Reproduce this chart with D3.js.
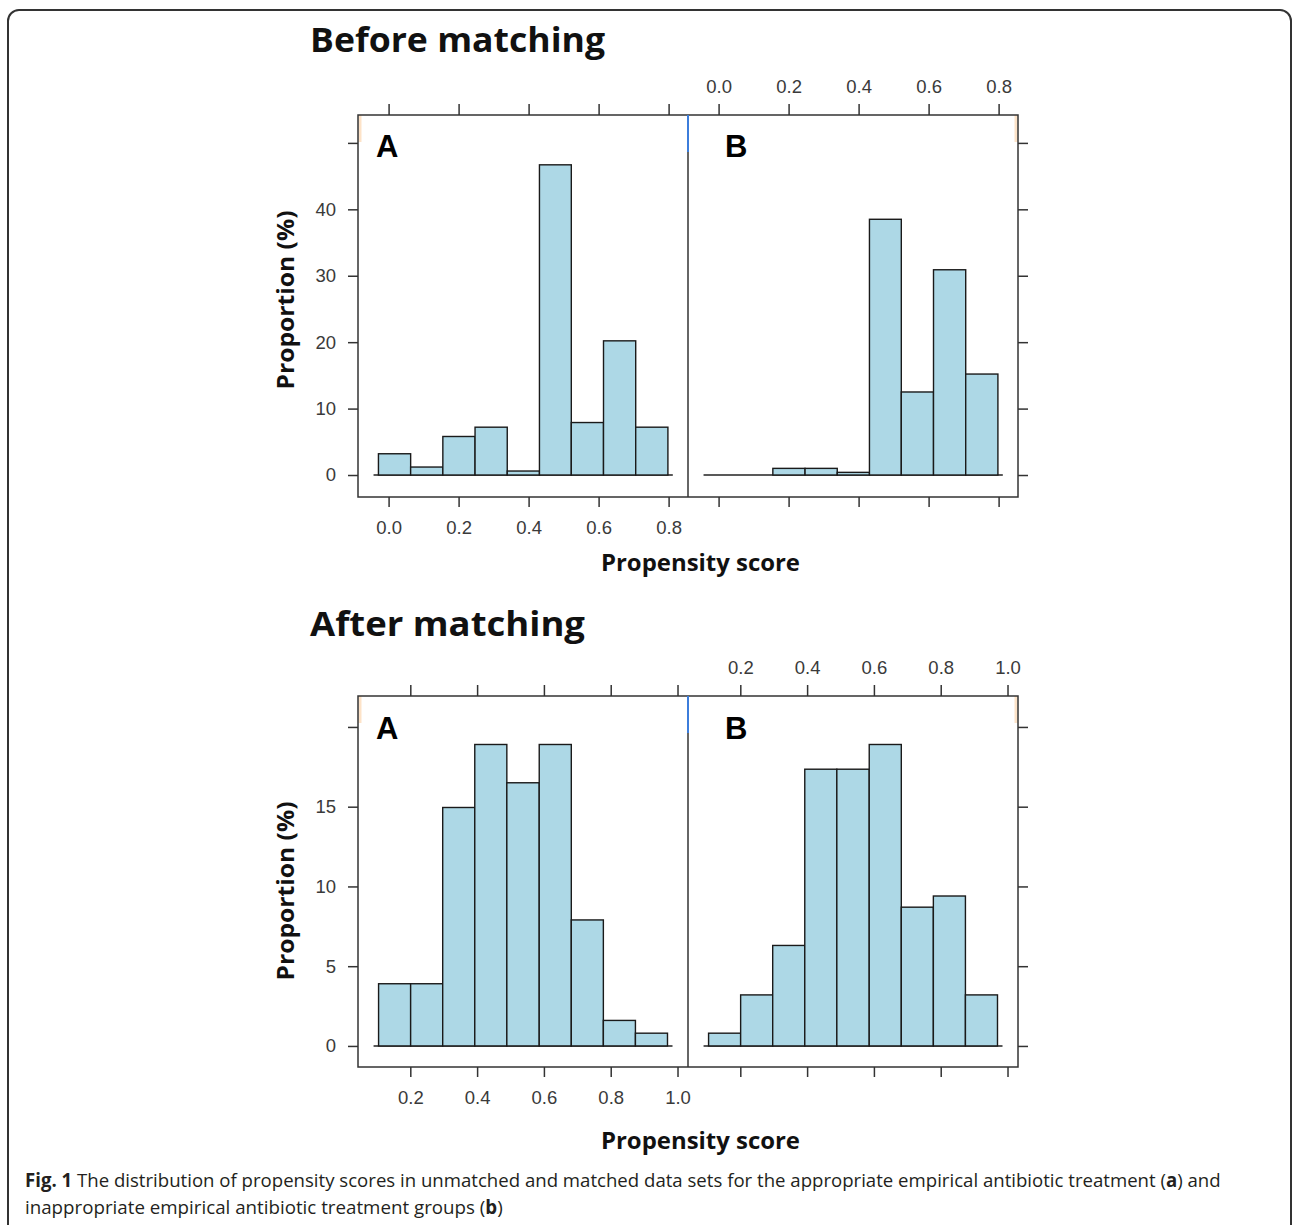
<!DOCTYPE html>
<html>
<head>
<meta charset="utf-8">
<script src="https://cdn.jsdelivr.net/npm/d3@7"></script>
<style>
  body { margin: 0; background: #fff; }
  svg { display: block; }
</style>
</head>
<body>
<div id="chart"></div>
<script>
// histogram breaks and bar heights (percent)
const panels = ['A', 'B']
const binsBefore = [-0.029, 0.063, 0.155, 0.247, 0.339, 0.431, 0.522, 0.614, 0.706, 0.798]
const beforeA = [3.2, 1.2, 5.8, 7.2, 0.6, 46.7, 7.9, 20.2, 7.2]
const beforeB = [0, 0, 1.0, 1.0, 0.4, 38.5, 12.5, 30.9, 15.2]

const binsAfter = [0.105, 0.201, 0.297, 0.393, 0.489, 0.586, 0.682, 0.778, 0.874, 0.970]
const afterA = [3.9, 3.9, 14.95, 18.9, 16.5, 18.9, 7.9, 1.6, 0.8]
const afterB = [0.8, 3.2, 6.3, 17.35, 17.35, 18.9, 8.7, 9.4, 3.2]

const xTicksBefore = [0, 0.2, 0.4, 0.6, 0.8]
const xTicksAfter = [0.2, 0.4, 0.6, 0.8, 1.0]
const yTicksBefore = [0, 10, 20, 30, 40, 50]
const yLabelsBefore = ['0', '10', '20', '30', '40', '']
const yTicksAfter = [0, 5, 10, 15, 20]
const yLabelsAfter = ['0', '5', '10', '15', '']

const titles = ['Before matching', 'After matching']
const xTitle = 'Propensity score'
const yTitle = 'Proportion (%)'

let width = 1295, height = 1225

let svg = d3.select('#chart').append('svg')
            .attr('width', width)
            .attr('height', height)

// outer box of the figure
svg.append('rect')
   .attr('x', 8).attr('y', 10)
   .attr('width', 1283).attr('height', 1230)
   .attr('rx', 11)
   .attr('fill', 'none')
   .attr('stroke', '#333')
   .attr('stroke-width', 2)

function drawBlock(opt) {
  let pw = 330, h = opt.height
  let g = svg.append('g')
             .attr('transform', 'translate(' + opt.left + ',' + opt.top + ')')

  let y = d3.scaleLinear().domain(opt.yDomain).range([h, 0])

  opt.series.forEach((vals, i) => {
    let x = d3.scaleLinear().domain(opt.xDomain).range([i * pw, (i + 1) * pw])
    let bars = vals.map((v, j) => ({ x0: opt.bins[j], x1: opt.bins[j + 1], v: v }))

    g.append('line')
     .attr('x1', x(opt.bins[0] - opt.pad))
     .attr('x2', x(opt.bins[opt.bins.length - 1] + opt.pad))
     .attr('y1', y(0)).attr('y2', y(0))
     .attr('stroke', '#222')
     .attr('stroke-width', 1.5)

    g.selectAll(null)
     .data(bars.filter(d => d.v > 0))
     .enter().append('rect')
     .attr('x', d => x(d.x0))
     .attr('width', d => x(d.x1) - x(d.x0))
     .attr('y', d => y(d.v))
     .attr('height', d => y(0) - y(d.v))
     .attr('fill', '#add8e6')
     .attr('stroke', '#1a1a1a')
     .attr('stroke-width', 1.4)

    let top = g.append('g')
               .attr('class', 'x axis')
               .call(d3.axisTop(x).tickValues(opt.xTicks).tickSize(11).tickPadding(11)
                       .tickFormat(i === 1 ? d3.format('.1f') : ''))
    let bottom = g.append('g')
                  .attr('class', 'x axis')
                  .attr('transform', 'translate(0,' + h + ')')
                  .call(d3.axisBottom(x).tickValues(opt.xTicks).tickSize(10).tickPadding(14)
                          .tickFormat(i === 0 ? d3.format('.1f') : ''))
    top.select('.domain').remove()
    bottom.select('.domain').remove()

    g.append('text')
     .attr('x', i * pw + (i === 0 ? 18 : 37))
     .attr('y', opt.letterY)
     .attr('font-family', 'Liberation Sans, Arial, sans-serif')
     .attr('font-weight', 'bold')
     .attr('font-size', 31)
     .attr('fill', '#000')
     .text(panels[i])
  })

  let left = g.append('g')
              .attr('class', 'y axis')
              .call(d3.axisLeft(y).tickValues(opt.yTicks).tickSize(10).tickPadding(12)
                      .tickFormat((d, k) => opt.yLabels[k]))
  let right = g.append('g')
               .attr('class', 'y axis')
               .attr('transform', 'translate(' + 2 * pw + ',0)')
               .call(d3.axisRight(y).tickValues(opt.yTicks).tickSize(10).tickFormat(''))
  left.select('.domain').remove()
  right.select('.domain').remove()

  g.selectAll('.axis line').attr('stroke', '#333').attr('stroke-width', 1.5)
  g.selectAll('.axis text')
   .attr('font-family', 'Liberation Sans, Arial, sans-serif')
   .attr('font-size', 18.5)
   .attr('fill', '#3a3a3a')

  // little strip remnants at the top of the panels
  g.append('line').attr('x1', 2).attr('x2', 2).attr('y1', 0).attr('y2', 27)
   .attr('stroke', '#fde3c8').attr('stroke-width', 3)
  g.append('line').attr('x1', 2 * pw - 2).attr('x2', 2 * pw - 2).attr('y1', 0).attr('y2', 27)
   .attr('stroke', '#fde3c8').attr('stroke-width', 3)

  g.append('rect')
   .attr('width', 2 * pw).attr('height', h)
   .attr('fill', 'none')
   .attr('stroke', '#333')
   .attr('stroke-width', 1.5)
  g.append('line')
   .attr('x1', pw).attr('x2', pw).attr('y1', 0).attr('y2', h)
   .attr('stroke', '#333').attr('stroke-width', 1.5)
  g.append('line')
   .attr('x1', pw).attr('x2', pw).attr('y1', 0).attr('y2', 37)
   .attr('stroke', '#3c7ddb').attr('stroke-width', 2)

  svg.append('text')
     .attr('x', 310).attr('y', opt.titleY)
     .attr('font-family', 'Open Sans, sans-serif')
     .attr('font-weight', 'bold')
     .attr('font-size', 34)
     .attr('fill', '#111')
     .attr('textLength', opt.titleLen)
     .attr('lengthAdjust', 'spacingAndGlyphs')
     .text(opt.title)

  svg.append('text')
     .attr('x', opt.left + pw - 87).attr('y', opt.top + h + opt.xTitleGap)
     .attr('font-family', 'Open Sans, sans-serif')
     .attr('font-weight', 'bold')
     .attr('font-size', 23)
     .attr('fill', '#111')
     .attr('textLength', 199)
     .attr('lengthAdjust', 'spacingAndGlyphs')
     .text(xTitle)

  svg.append('text')
     .attr('transform', 'translate(294,' + (opt.top + opt.yTitleMid) + ') rotate(-90)')
     .attr('text-anchor', 'middle')
     .attr('font-family', 'Open Sans, sans-serif')
     .attr('font-weight', 'bold')
     .attr('font-size', 23)
     .attr('fill', '#111')
     .attr('textLength', 179)
     .attr('lengthAdjust', 'spacingAndGlyphs')
     .text(yTitle)
}

drawBlock({
  left: 358, top: 115, height: 382,
  xDomain: [-0.0874, 0.8554], yDomain: [-3.31, 54.2],
  bins: binsBefore, series: [beforeA, beforeB], pad: 0.014,
  xTicks: xTicksBefore, yTicks: yTicksBefore, yLabels: yLabelsBefore,
  letterY: 42, title: titles[0], titleY: 52, titleLen: 295, yTitleMid: 185, xTitleGap: 74
})

drawBlock({
  left: 358, top: 696, height: 371,
  xDomain: [0.0434, 1.0314], yDomain: [-1.32, 21.94],
  bins: binsAfter, series: [afterA, afterB], pad: 0.015,
  xTicks: xTicksAfter, yTicks: yTicksAfter, yLabels: yLabelsAfter,
  letterY: 43, title: titles[1], titleY: 636, titleLen: 275, yTitleMid: 195, xTitleGap: 82
})

// caption: squeeze each line horizontally to the width it has in the figure
function captionLine(parts, x, y, targetWidth) {
  let g = svg.append('g')
  let t = g.append('text')
           .attr('font-family', 'Open Sans, sans-serif')
           .attr('font-size', 19)
           .attr('fill', '#231f20')
  parts.forEach(p => {
    t.append('tspan').attr('font-weight', p[1] ? 'bold' : null).text(p[0])
  })
  let natural = t.node().getComputedTextLength()
  g.attr('transform', 'translate(' + x + ',' + y + ') scale(' + (targetWidth / natural) + ',1)')
}

captionLine([
  ['Fig. 1', true],
  [' The distribution of propensity scores in unmatched and matched data sets for the appropriate empirical antibiotic treatment (', false],
  ['a', true],
  [') and', false]
], 25, 1187, 1196)

captionLine([
  ['inappropriate empirical antibiotic treatment groups (', false],
  ['b', true],
  [')', false]
], 25, 1214, 478)
</script>
</body>
</html>
